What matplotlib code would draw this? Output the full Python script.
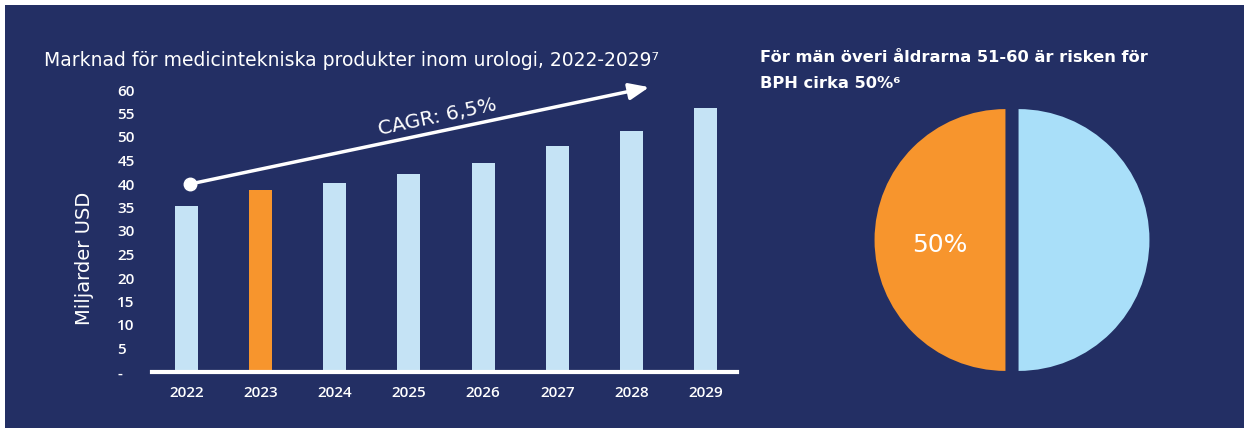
import matplotlib.pyplot as plt
from matplotlib.patches import Rectangle

plt.rcParams['font.family'] = ['DejaVu Sans']

# bar chart data
years = ['2022', '2023', '2024', '2025', '2026', '2027', '2028', '2029']
market = [35.3, 38.7, 40.2, 42.1, 44.5, 48.1, 51.3, 56.2]
highlight = '2023'
yticks = [0, 5, 10, 15, 20, 25, 30, 35, 40, 45, 50, 55, 60]
ytick_labels = ['-', '5', '10', '15', '20', '25', '30', '35', '40', '45', '50', '55', '60']

# pie data
pie_labels = ['BPH', 'Övriga']
pie_share = [50, 50]

navy = '#232F64'
orange = '#F7952D'
bar_blue = '#C5E3F5'
pie_blue = '#A9DFF9'

W, H = 1244, 428
fig = plt.figure(figsize=(W / 100, H / 100), dpi=100, facecolor='white')
fig.patches.append(Rectangle((5 / W, 0), 1, (H - 5) / H, transform=fig.transFigure,
                             facecolor=navy, edgecolor='none', zorder=-10))

# bar chart
ax = fig.add_axes([152 / W, 56 / H, 585 / W, 282 / H])
ax.set_facecolor('none')
x = list(range(len(years)))
colors = [orange if y == highlight else bar_blue for y in years]
ax.bar(x, market, width=0.31, color=colors, zorder=2)
ax.set_xlim(-0.465, 7.425)
ax.set_ylim(0, 60)
ax.axhline(0, color='white', lw=3, clip_on=False, zorder=3)
for s in ax.spines.values():
    s.set_visible(False)
tick_font = dict(family=['Open Sans', 'DejaVu Sans'], weight='semibold')
ax.set_xticks(x)
ax.set_xticklabels(years, color='white', fontsize=11, **tick_font)
ax.set_yticks(yticks)
ax.set_yticklabels(ytick_labels, color='white', fontsize=11, ha='left', **tick_font)
ax.tick_params(axis='x', length=0, pad=10)
ax.tick_params(axis='y', length=0, pad=25)

# CAGR arrow
ax.plot([0.05], [40], 'o', color='white', ms=9, clip_on=False, zorder=4)
ax.annotate('', xy=(6.24, 60.6), xytext=(0.05, 40),
            arrowprops=dict(arrowstyle='-|>,head_length=1.2,head_width=0.5', color='white',
                            lw=2.5, shrinkA=0, shrinkB=0),
            annotation_clip=False)
ax.text(3.38, 54.3, 'CAGR: 6,5%', color='white', fontsize=14.5, rotation=12,
        ha='center', va='center', rotation_mode='anchor')

fig.text(44 / W, (H - 60) / H, 'Marknad för medicintekniska produkter inom urologi, 2022-2029⁷',
         color='white', fontsize=13.5, ha='left', va='center')
fig.text(85 / W, (H - 258) / H, 'Miljarder USD', color='white', fontsize=14,
         rotation=90, ha='center', va='center')

# pie chart
pax = fig.add_axes([(1012 - 144) / W, (H - 240 - 144) / H, 288 / W, 288 / H])
wedges, texts, autotexts = pax.pie(pie_share, colors=[orange, pie_blue], startangle=90,
                                   explode=[0.05, 0.05], autopct='%d%%', pctdistance=0.5,
                                   textprops=dict(color='white', fontsize=18))
autotexts[1].set_text('')
px, py = autotexts[0].get_position()
autotexts[0].set_position((px, py - 0.04))
pax.set_xlim(-1.1, 1.1)
pax.set_ylim(-1.1, 1.1)
pax.set_aspect('equal')

fig.text(760 / W, (H - 58) / H, 'För män överi åldrarna 51-60 är risken för',
         color='white', fontsize=11.7, fontweight='bold', ha='left', va='center')
fig.text(760 / W, (H - 84) / H, 'BPH cirka 50%⁶',
         color='white', fontsize=11.7, fontweight='bold', ha='left', va='center')

fig.savefig('out.png', dpi=100, facecolor='white')
